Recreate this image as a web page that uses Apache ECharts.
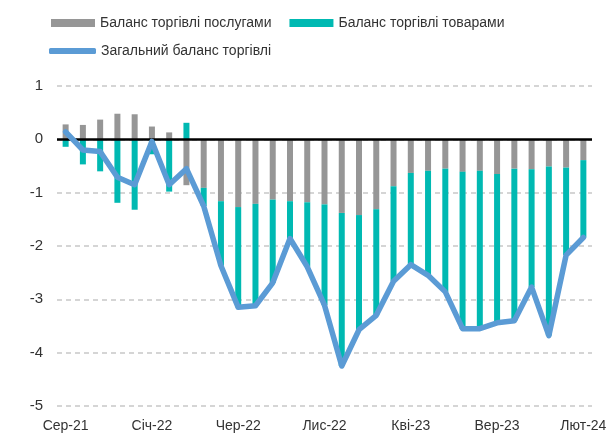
<!DOCTYPE html>
<html>
<head>
<meta charset="utf-8">
<script src="https://cdn.jsdelivr.net/npm/echarts@6/dist/echarts.min.js"></script>
<style>
  html, body { margin: 0; padding: 0; background: #fff; }
  #chart { width: 611px; height: 438px; }
</style>
</head>
<body>
<div id="chart"></div>
<script>
// місяці від серпня 2021 до лютого 2024
const months = [
    'Сер-21', 'Вер-21', 'Жов-21', 'Лис-21', 'Гру-21',
    'Січ-22', 'Лют-22', 'Бер-22', 'Кві-22', 'Тра-22',
    'Чер-22', 'Лип-22', 'Сер-22', 'Вер-22', 'Жов-22',
    'Лис-22', 'Гру-22', 'Січ-23', 'Лют-23', 'Бер-23',
    'Кві-23', 'Тра-23', 'Чер-23', 'Лип-23', 'Сер-23',
    'Вер-23', 'Жов-23', 'Лис-23', 'Гру-23', 'Січ-24',
    'Лют-24'
];

const services = [
    0.28, 0.27, 0.37, 0.48, 0.47, 0.24, 0.13, -0.86, -0.91, -1.16,
    -1.27, -1.21, -1.13, -1.16, -1.18, -1.22, -1.38, -1.42, -1.31, -0.88,
    -0.63, -0.59, -0.55, -0.61, -0.59, -0.65, -0.55, -0.56, -0.51, -0.53,
    -0.39
];

const goods = [
    -0.14, -0.47, -0.60, -1.19, -1.32, -0.28, -0.98, 0.31, -0.34, -1.21,
    -1.88, -1.91, -1.56, -0.70, -1.21, -1.89, -2.87, -2.15, -1.99, -1.78,
    -1.72, -1.96, -2.31, -2.94, -2.96, -2.79, -2.85, -2.21, -3.17, -1.64,
    -1.45
];

const total = [
    0.14, -0.20, -0.23, -0.71, -0.85, -0.04, -0.85, -0.55, -1.25, -2.37,
    -3.15, -3.12, -2.69, -1.86, -2.39, -3.11, -4.25, -3.57, -3.30, -2.66,
    -2.35, -2.55, -2.86, -3.55, -3.55, -3.44, -3.40, -2.77, -3.68, -2.17,
    -1.84
];

const font = '"Liberation Sans Narrow", "Liberation Sans", Arial, sans-serif';

const chart = echarts.init(document.getElementById('chart'));

const option = {
    animation: false,
    textStyle: { fontFamily: font },
    legend: [
        {
            left: 46,
            top: 11,
            itemWidth: 44,
            itemHeight: 8,
            itemGap: 18,
            icon: 'rect',
            textStyle: { fontFamily: font, fontSize: 14, color: '#333' },
            data: ['Баланс торгівлі послугами', 'Баланс торгівлі товарами']
        },
        {
            left: 44,
            top: 39,
            itemWidth: 47,
            itemHeight: 6,
            icon: 'roundRect',
            textStyle: { fontFamily: font, fontSize: 14, color: '#333' },
            data: ['Загальний баланс торгівлі']
        }
    ],
    grid: {
        left: 57,
        right: 19,
        top: 86,
        bottom: 32
    },
    xAxis: {
        type: 'category',
        data: months,
        axisLine: { show: false },
        axisTick: { show: false },
        axisLabel: {
            interval: 4,
            margin: 13,
            fontFamily: font,
            fontSize: 14,
            color: '#333'
        }
    },
    yAxis: {
        type: 'value',
        min: -5,
        max: 1,
        interval: 1,
        axisLine: { show: false },
        axisTick: { show: false },
        axisLabel: {
            margin: 14,
            fontFamily: font,
            fontSize: 15,
            color: '#333'
        },
        splitLine: {
            lineStyle: { color: '#c8c8c8', width: 1.5, type: [5, 4] }
        }
    },
    series: [
        {
            name: 'Баланс торгівлі послугами',
            type: 'bar',
            stack: 'balance',
            barWidth: 6,
            itemStyle: { color: '#969696' },
            data: services,
            markLine: {
                silent: true,
                symbol: 'none',
                label: { show: false },
                lineStyle: { color: '#000', width: 2.5, type: 'solid' },
                data: [{ yAxis: 0 }]
            }
        },
        {
            name: 'Баланс торгівлі товарами',
            type: 'bar',
            stack: 'balance',
            barWidth: 6,
            itemStyle: { color: '#00b9b2' },
            data: goods
        },
        {
            name: 'Загальний баланс торгівлі',
            type: 'line',
            z: 5,
            symbol: 'none',
            itemStyle: { color: '#5b9bd5' },
            lineStyle: { color: '#5b9bd5', width: 5.5, join: 'round', cap: 'round' },
            data: total
        }
    ]
};

chart.setOption(option);
</script>
</body>
</html>
